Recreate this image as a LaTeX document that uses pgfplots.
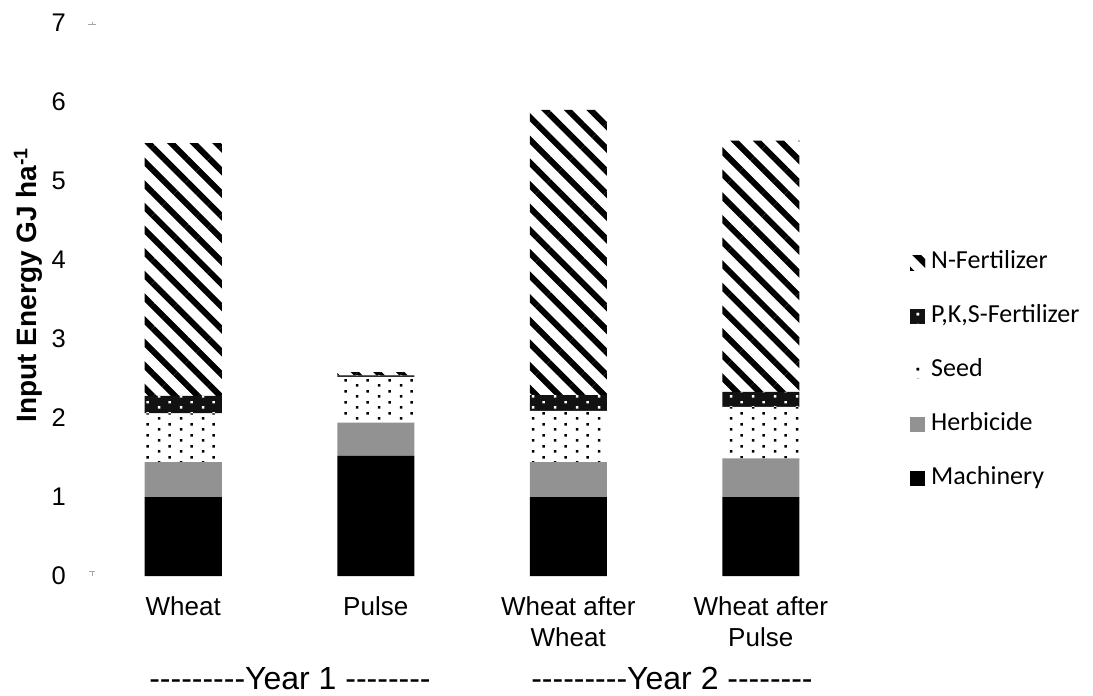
\documentclass[border=0pt]{standalone}
\usepackage{pgfplots}
\pgfplotsset{compat=1.18}
\usepackage{fontspec}
\setmainfont{Liberation Sans}
\newfontfamily\calibri{Carlito}
\usetikzlibrary{patterns.meta}
\definecolor{herb}{RGB}{146,146,146}
\tikzdeclarepattern{
  name=dotlattice,
  type=uncolored,
  bottom left={(0bp,0bp)},
  top right={(22bp,11bp)},
  tile size={(22bp,11bp)},
  code={
    \pgfpathrectangle{\pgfqpoint{4bp}{1.5bp}}{\pgfqpoint{2.6bp}{2.6bp}}
    \pgfpathrectangle{\pgfqpoint{15bp}{7bp}}{\pgfqpoint{2.6bp}{2.6bp}}
    \pgfusepath{fill}
  }
}
\tikzset{
  nstripe/.style={fill=white,postaction={pattern={Lines[angle=-45,distance=16bp,line width=6bp]},pattern color=black}},
  pksfill/.style={fill=black!93,postaction={pattern=dotlattice,pattern color=white}},
  seedfill/.style={fill=white,postaction={pattern=dotlattice,pattern color=black}},
}
\begin{document}
\begin{tikzpicture}
\useasboundingbox (-87bp,-120bp) rectangle (1006bp,576bp);
\begin{axis}[
  scale only axis,
  width=770bp, height=553bp,
  at={(0,0)}, anchor=south west,
  xmin=-0.5, xmax=3.5, ymin=0, ymax=7,
  ybar stacked, bar width=77bp, bar shift=0pt,
  axis line style={draw=none},
  tick style={draw=none},
  xtick={0,1,2,3},
  xticklabels={Wheat,Pulse,{Wheat after\\Wheat},{Wheat after\\Pulse}},
  ytick={0,1,2,3,4,5,6,7},
  /pgf/number format/assume math mode=true,
  xticklabel style={align=center,anchor=north,inner sep=0pt,yshift=-20bp,font=\fontsize{26bp}{31bp}\selectfont},
  yticklabel style={anchor=east,inner sep=0pt,xshift=-21bp,font=\fontsize{25.5bp}{30bp}\selectfont},
  reverse legend,
  legend style={at={(rel axis cs:1.065,0.371)},anchor=west,draw=none,fill=none,
    font=\calibri\fontsize{26bp}{30bp}\selectfont,
    nodes={inner sep=0pt,text height=17bp,text depth=5bp},
    row sep=32bp, column sep=6bp, cells={anchor=west}},
]
\addplot[fill=black,draw=none,
  legend image code/.code={\fill[black] (0bp,-7.5bp) rectangle (15bp,7.5bp);}]
  coordinates {(0,1.00) (1,1.52) (2,1.00) (3,1.00)};
\addlegendentry{Machinery}
\addplot[fill=herb,draw=none,
  legend image code/.code={\fill[herb] (0bp,-7.5bp) rectangle (15bp,7.5bp);}]
  coordinates {(0,0.44) (1,0.42) (2,0.44) (3,0.49)};
\addlegendentry{Herbicide}
\addplot[seedfill,draw=none,
  legend image code/.code={\path[seedfill] (0bp,-7.5bp) rectangle (15bp,7.5bp);}]
  coordinates {(0,0.62) (1,0.58) (2,0.65) (3,0.65)};
\addlegendentry{Seed}
\addplot[pksfill,draw=none,
  legend image code/.code={\path[pksfill] (0bp,-7.5bp) rectangle (15bp,7.5bp);}]
  coordinates {(0,0.22) (1,0.02) (2,0.20) (3,0.19)};
\addlegendentry{P,K,S-Fertilizer}
\addplot[nstripe,draw=none,
  legend image code/.code={\path[nstripe] (0bp,-7.5bp) rectangle (15bp,7.5bp);}]
  coordinates {(0,3.20) (1,0.04) (2,3.61) (3,3.18)};
\addlegendentry{N-Fertilizer}
\end{axis}
% faint error-bar remnants at the left edge of the plot
\begin{axis}[
  scale only axis, hide axis,
  width=770bp, height=553bp,
  at={(0,0)}, anchor=south west,
  xmin=-0.5, xmax=3.5, ymin=0, ymax=7,
]
\addplot[draw=none, mark=none, forget plot,
  error bars/.cd, y dir=both, y explicit,
  error bar style={line width=1bp, color=black!35},
  error mark options={rotate=90, mark size=4bp, line width=1bp, color=black!35}]
  coordinates {(-0.474,7.04) +- (0,0.06)};
\addplot[draw=none, mark=none, forget plot,
  error bars/.cd, y dir=plus, y explicit,
  error bar style={line width=1bp, color=black!35},
  error mark options={rotate=90, mark size=3bp, line width=1bp, color=black!35}]
  coordinates {(-0.474,0.0) +- (0,0.06)};
\end{axis}
\node[rotate=90,font=\bfseries\fontsize{28bp}{32bp}\selectfont] at (-59bp,291bp) {Input Energy GJ ha\textsuperscript{-1}};
\node[anchor=base,font=\fontsize{32bp}{38bp}\selectfont] at (203bp,-113bp) {-{}-{}-{}-{}-{}-{}-{}-{}-Year 1 -{}-{}-{}-{}-{}-{}-{}-};
\node[anchor=base,font=\fontsize{32bp}{38bp}\selectfont] at (585bp,-113bp) {-{}-{}-{}-{}-{}-{}-{}-{}-Year 2 -{}-{}-{}-{}-{}-{}-{}-};
\end{tikzpicture}
\end{document}
